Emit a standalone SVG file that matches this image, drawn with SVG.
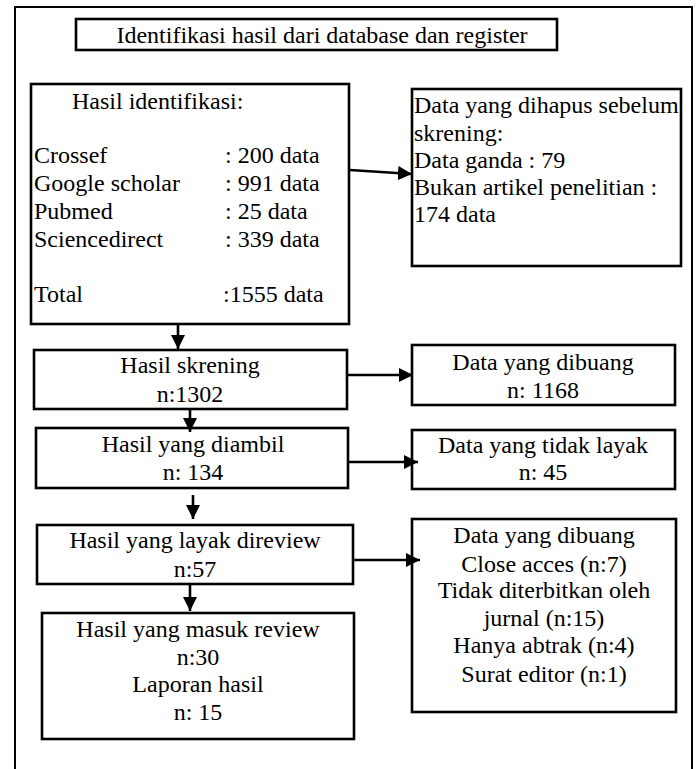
<svg xmlns="http://www.w3.org/2000/svg" width="696" height="769" viewBox="0 0 696 769">
<style>
.box{fill:#fff;stroke:#000;stroke-width:2.6}
.frame{fill:#fff;stroke:#000;stroke-width:2}
text{font-family:'Liberation Serif','Times New Roman',Times,'DejaVu Serif',serif;font-size:24px;fill:#000}
.c{text-anchor:middle}
.con{stroke:#000;stroke-width:2.6;fill:none;marker-end:url(#ah)}
</style>
<defs>
<marker id="ah" markerUnits="userSpaceOnUse" markerWidth="14" markerHeight="14" refX="14" refY="7" orient="auto">
<path d="M0,0 L14,7 L0,14 z" fill="#000"/>
</marker>
</defs>
<rect class="frame" x="15" y="7" width="677" height="780"/>
<g id="title">
<rect class="box" x="76" y="19" width="481" height="31"/>
<text class="c" x="322" y="43">Identifikasi hasil dari database dan register</text>
</g>
<g id="identifikasi">
<rect class="box" x="31" y="84" width="318" height="240"/>
<text x="72" y="109">Hasil identifikasi:</text>
<text x="34" y="163">Crossef</text><text x="225" y="163">: 200 data</text>
<text x="34" y="191">Google scholar</text><text x="225" y="191">: 991 data</text>
<text x="34" y="219">Pubmed</text><text x="225" y="219">: 25 data</text>
<text x="34" y="247">Sciencedirect</text><text x="225" y="247">: 339 data</text>
<text x="34" y="302">Total</text><text x="223" y="302">:1555 data</text>
</g>
<g id="dihapus">
<rect class="box" x="412" y="89" width="269" height="177"/>
<text x="414" y="113">Data yang dihapus sebelum</text>
<text x="414" y="141">skrening:</text>
<text x="414" y="168">Data ganda : 79</text>
<text x="414" y="195">Bukan artikel penelitian :</text>
<text x="414" y="222">174 data</text>
</g>
<g id="skrening">
<rect class="box" x="34" y="350" width="313" height="59"/>
<text class="c" x="190" y="373">Hasil skrening</text>
<text class="c" x="190" y="402">n:1302</text>
</g>
<g id="dibuang1">
<rect class="box" x="412" y="345" width="263" height="60"/>
<text class="c" x="543" y="370">Data yang dibuang</text>
<text class="c" x="543" y="398">n: 1168</text>
</g>
<g id="diambil">
<rect class="box" x="36" y="428" width="312" height="60"/>
<text class="c" x="193" y="452">Hasil yang diambil</text>
<text class="c" x="193" y="480">n: 134</text>
</g>
<g id="tidaklayak">
<rect class="box" x="412" y="430" width="263" height="59"/>
<text class="c" x="543" y="453">Data yang tidak layak</text>
<text class="c" x="543" y="480">n: 45</text>
</g>
<g id="layak">
<rect class="box" x="37" y="525" width="316" height="59"/>
<text class="c" x="195" y="548">Hasil yang layak direview</text>
<text class="c" x="195" y="577">n:57</text>
</g>
<g id="dibuang2">
<rect class="box" x="412" y="519" width="264" height="193"/>
<text class="c" x="544" y="543">Data yang dibuang</text>
<text class="c" x="544" y="572">Close acces (n:7)</text>
<text class="c" x="544" y="598">Tidak diterbitkan oleh</text>
<text class="c" x="544" y="626">jurnal (n:15)</text>
<text class="c" x="544" y="653">Hanya abtrak (n:4)</text>
<text class="c" x="544" y="682">Surat editor (n:1)</text>
</g>
<g id="masuk">
<rect class="box" x="42" y="613" width="312" height="126"/>
<text class="c" x="198" y="637">Hasil yang masuk review</text>
<text class="c" x="198" y="665">n:30</text>
<text class="c" x="198" y="692">Laporan hasil</text>
<text class="c" x="198" y="720">n: 15</text>
</g>
<g id="connectors">
<line class="con" x1="178" y1="325" x2="178" y2="349"/>
<line class="con" x1="350" y1="170" x2="412" y2="174"/>
<line class="con" x1="348" y1="375" x2="413" y2="375"/>
<line class="con" x1="190" y1="410" x2="190" y2="432"/>
<line class="con" x1="349" y1="462" x2="418" y2="462"/>
<line class="con" x1="193" y1="495" x2="193" y2="519"/>
<line class="con" x1="354" y1="560" x2="420" y2="560"/>
<line class="con" x1="190" y1="585" x2="190" y2="611"/>
</g>
</svg>
